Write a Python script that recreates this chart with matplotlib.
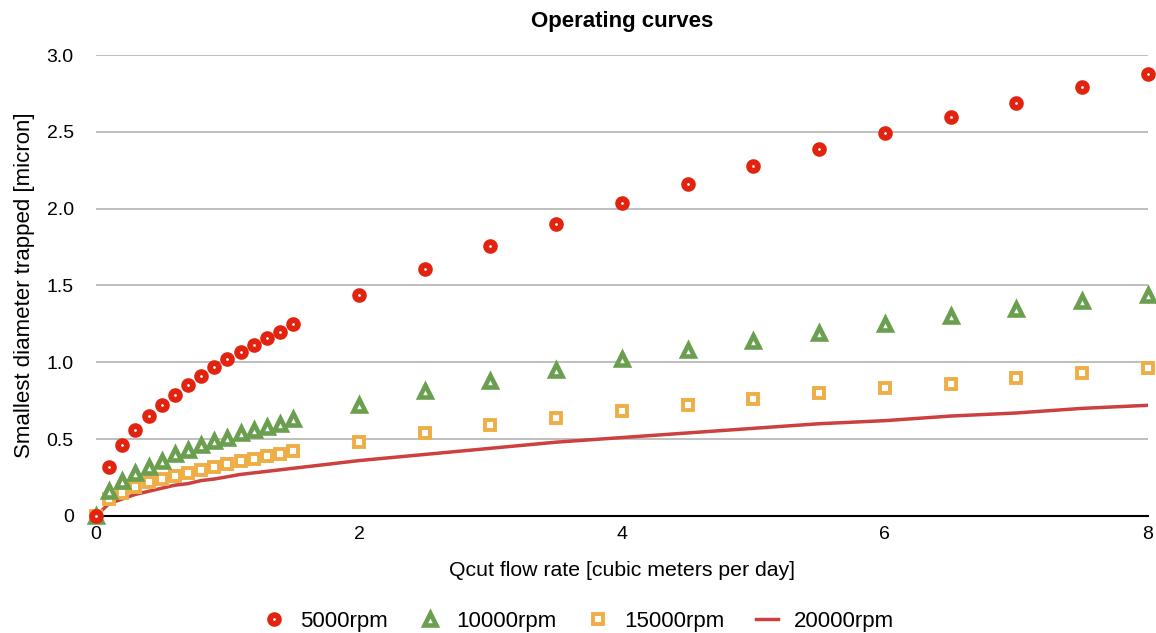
import matplotlib
matplotlib.use("Agg")
import matplotlib.pyplot as plt
from matplotlib.ticker import FixedLocator

plt.rcParams['font.family'] = ['Liberation Sans', 'DejaVu Sans']

x = [0, 0.1, 0.2, 0.3, 0.4, 0.5, 0.6, 0.7, 0.8, 0.9, 1.0, 1.1, 1.2, 1.3, 1.4, 1.5,
     2, 2.5, 3, 3.5, 4, 4.5, 5, 5.5, 6, 6.5, 7, 7.5, 8]
rpm5000 = [0, 0.32, 0.46, 0.56, 0.65, 0.72, 0.79, 0.85, 0.91, 0.97, 1.02, 1.07, 1.11, 1.16, 1.20, 1.25,
           1.44, 1.61, 1.76, 1.90, 2.04, 2.16, 2.28, 2.39, 2.49, 2.60, 2.69, 2.79, 2.88]
rpm10000 = [0, 0.16, 0.23, 0.28, 0.32, 0.36, 0.40, 0.43, 0.46, 0.49, 0.51, 0.54, 0.56, 0.58, 0.60, 0.63,
            0.72, 0.81, 0.88, 0.95, 1.02, 1.08, 1.14, 1.19, 1.25, 1.30, 1.35, 1.40, 1.44]
rpm15000 = [0, 0.11, 0.15, 0.19, 0.22, 0.24, 0.26, 0.28, 0.30, 0.32, 0.34, 0.36, 0.37, 0.39, 0.40, 0.42,
            0.48, 0.54, 0.59, 0.64, 0.68, 0.72, 0.76, 0.80, 0.83, 0.86, 0.90, 0.93, 0.96]
rpm20000 = [0, 0.08, 0.11, 0.14, 0.16, 0.18, 0.20, 0.21, 0.23, 0.24, 0.255, 0.27, 0.28, 0.29, 0.30, 0.31,
            0.36, 0.40, 0.44, 0.48, 0.51, 0.54, 0.57, 0.60, 0.62, 0.65, 0.67, 0.70, 0.72]

fig = plt.figure(figsize=(11.56, 6.33), dpi=100)
ax = fig.add_axes([0.083, 0.185, 0.91, 0.728])

ax.plot(x, rpm20000, color="#cc4040", linewidth=2.5, label="20000rpm", zorder=2)
ax.plot(x, rpm15000, linestyle="none", marker="s", markersize=6.8, markerfacecolor="white",
        markeredgecolor="#efae45", markeredgewidth=2.8, label="15000rpm", clip_on=False, zorder=3)
ax.plot(x, rpm10000, linestyle="none", marker="^", markersize=8, markerfacecolor="white",
        markeredgecolor="#6a9f50", markeredgewidth=3.3, label="10000rpm", clip_on=False, zorder=4)
ax.plot(x, rpm5000, linestyle="none", marker="o", markersize=6.3, markerfacecolor="white",
        markeredgecolor="#e2230f", markeredgewidth=4.2, label="5000rpm", clip_on=False, zorder=5)

ax.set_xlim(0, 8)
ax.set_ylim(0, 3.0)
ax.xaxis.set_major_locator(FixedLocator([0, 2, 4, 6, 8]))
ax.yaxis.set_major_locator(FixedLocator([0, 0.5, 1.0, 1.5, 2.0, 2.5, 3.0]))
ax.set_yticklabels(["0", "0.5", "1.0", "1.5", "2.0", "2.5", "3.0"])
ax.tick_params(axis="both", length=0, labelsize=14)
ax.tick_params(axis="x", pad=7)
ax.tick_params(axis="y", pad=16)
ax.grid(axis="y", color="#b4b4b4", linewidth=1.2)
ax.set_axisbelow(True)
for s in ["top", "right", "left"]:
    ax.spines[s].set_visible(False)
ax.spines["bottom"].set_color("black")
ax.spines["bottom"].set_linewidth(1.5)

ax.set_title("Operating curves", fontsize=16, fontweight="bold", pad=20)
ax.set_xlabel("Qcut flow rate [cubic meters per day]", fontsize=15.3, labelpad=13)
ax.set_ylabel("Smallest diameter trapped [micron]", fontsize=16, labelpad=8)

handles, labels = ax.get_legend_handles_labels()
order = [3, 2, 1, 0]
fig.legend([handles[i] for i in order], [labels[i] for i in order], loc="center",
           bbox_to_anchor=(0.5, 0.018), ncol=4, frameon=False, fontsize=16,
           handlelength=1.0, columnspacing=1.4, handletextpad=0.68)

fig.savefig("out.png", dpi=100)
